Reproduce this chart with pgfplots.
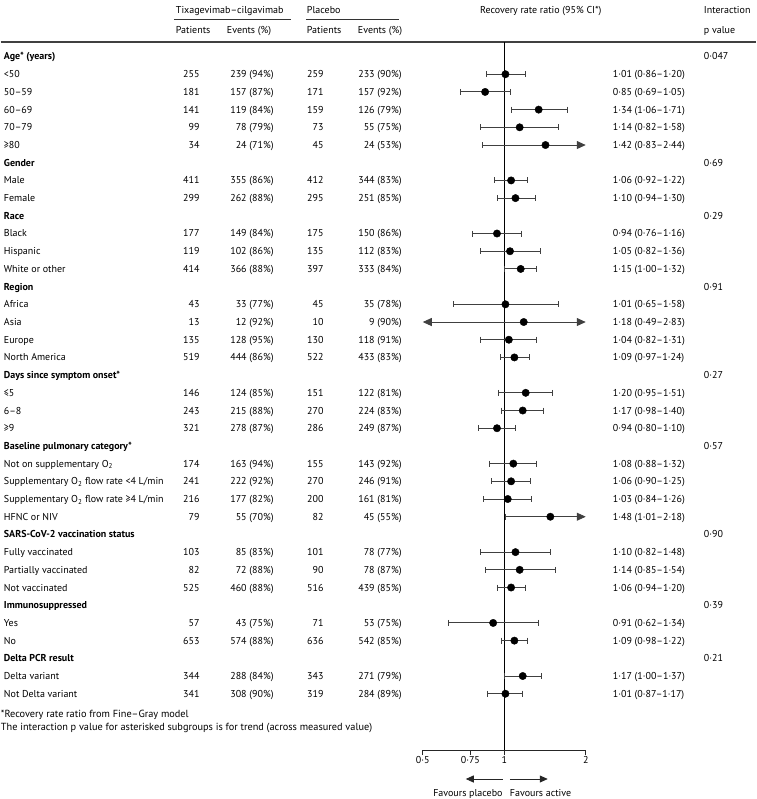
\documentclass[border=0pt]{standalone}
\usepackage{pgfplots}
\pgfplotsset{compat=1.18}
\usepackage{fontspec}
\setmainfont{PT Sans}
\usetikzlibrary{arrows.meta}
\newcommand\ry[1]{56.5+17.7*#1}
\newcommand\hrow[3]{%
  \node[anchor=base west,font=\fontsize{10}{12}\selectfont\bfseries] at (3,{\ry{#1}+3.5}) {#2};
  \node[anchor=base west] at (703,{\ry{#1}+3.5}) {#3};}
\newcommand\drow[7]{%
  \node[anchor=base west] at (3,{\ry{#1}+3.5}) {#2};
  \node[anchor=base east] at (199,{\ry{#1}+3.5}) {#3};
  \node[anchor=base east] at (273,{\ry{#1}+3.5}) {#4};
  \node[anchor=base east] at (323,{\ry{#1}+3.5}) {#5};
  \node[anchor=base east] at (401,{\ry{#1}+3.5}) {#6};
  \node[anchor=base west] at (612,{\ry{#1}+3.5}) {#7};}
\begin{document}
\begin{tikzpicture}[x=1pt,y=-1pt,every node/.style={font=\fontsize{10}{12}\selectfont,inner sep=0pt,text=black}]
\path (0,0) rectangle (755,799);
% headers
\node[anchor=base west] at (175,14) {Tixagevimab–cilgavimab};
\node[anchor=base west] at (306,14) {Placebo};
\node[anchor=base] at (540,14) {Recovery rate ratio (95\% CI*)};
\node[anchor=base west] at (703,14) {Interaction};
\node[anchor=base west] at (703,34) {p value};
\draw[black!80,line width=0.8pt] (173,19) -- (290,19);
\draw[black!80,line width=0.8pt] (305,19) -- (398,19);
\node[anchor=base west] at (175,34) {Patients};
\node[anchor=base west] at (226,34) {Events (\%)};
\node[anchor=base west] at (306,34) {Patients};
\node[anchor=base west] at (357,34) {Events (\%)};
\draw[black!75,line width=1.5pt] (0,42) -- (755,42);
% rows
\hrow{0}{Age* (years)}{0·047}
\drow{1}{<50}{255}{239 (94\%)}{259}{233 (90\%)}{1·01 (0·86–1·20)}
\drow{2}{50–59}{181}{157 (87\%)}{171}{157 (92\%)}{0·85 (0·69–1·05)}
\drow{3}{60–69}{141}{119 (84\%)}{159}{126 (79\%)}{1·34 (1·06–1·71)}
\drow{4}{70–79}{99}{78 (79\%)}{73}{55 (75\%)}{1·14 (0·82–1·58)}
\drow{5}{≥80}{34}{24 (71\%)}{45}{24 (53\%)}{1·42 (0·83–2·44)}
\hrow{6}{Gender}{0·69}
\drow{7}{Male}{411}{355 (86\%)}{412}{344 (83\%)}{1·06 (0·92–1·22)}
\drow{8}{Female}{299}{262 (88\%)}{295}{251 (85\%)}{1·10 (0·94–1·30)}
\hrow{9}{Race}{0·29}
\drow{10}{Black}{177}{149 (84\%)}{175}{150 (86\%)}{0·94 (0·76–1·16)}
\drow{11}{Hispanic}{119}{102 (86\%)}{135}{112 (83\%)}{1·05 (0·82–1·36)}
\drow{12}{White or other}{414}{366 (88\%)}{397}{333 (84\%)}{1·15 (1·00–1·32)}
\hrow{13}{Region}{0·91}
\drow{14}{Africa}{43}{33 (77\%)}{45}{35 (78\%)}{1·01 (0·65–1·58)}
\drow{15}{Asia}{13}{12 (92\%)}{10}{9 (90\%)}{1·18 (0·49–2·83)}
\drow{16}{Europe}{135}{128 (95\%)}{130}{118 (91\%)}{1·04 (0·82–1·31)}
\drow{17}{North America}{519}{444 (86\%)}{522}{433 (83\%)}{1·09 (0·97–1·24)}
\hrow{18}{Days since symptom onset*}{0·27}
\drow{19}{≤5}{146}{124 (85\%)}{151}{122 (81\%)}{1·20 (0·95–1·51)}
\drow{20}{6–8}{243}{215 (88\%)}{270}{224 (83\%)}{1·17 (0·98–1·40)}
\drow{21}{≥9}{321}{278 (87\%)}{286}{249 (87\%)}{0·94 (0·80–1·10)}
\hrow{22}{Baseline pulmonary category*}{0·57}
\drow{23}{Not on supplementary O\textsubscript{2}}{174}{163 (94\%)}{155}{143 (92\%)}{1·08 (0·88–1·32)}
\drow{24}{Supplementary O\textsubscript{2} flow rate <4 L/min}{241}{222 (92\%)}{270}{246 (91\%)}{1·06 (0·90–1·25)}
\drow{25}{Supplementary O\textsubscript{2} flow rate ≥4 L/min}{216}{177 (82\%)}{200}{161 (81\%)}{1·03 (0·84–1·26)}
\drow{26}{HFNC or NIV}{79}{55 (70\%)}{82}{45 (55\%)}{1·48 (1·01–2·18)}
\hrow{27}{SARS-CoV-2 vaccination status}{0·90}
\drow{28}{Fully vaccinated}{103}{85 (83\%)}{101}{78 (77\%)}{1·10 (0·82–1·48)}
\drow{29}{Partially vaccinated}{82}{72 (88\%)}{90}{78 (87\%)}{1·14 (0·85–1·54)}
\drow{30}{Not vaccinated}{525}{460 (88\%)}{516}{439 (85\%)}{1·06 (0·94–1·20)}
\hrow{31}{Immunosuppressed}{0·39}
\drow{32}{Yes}{57}{43 (75\%)}{71}{53 (75\%)}{0·91 (0·62–1·34)}
\drow{33}{No}{653}{574 (88\%)}{636}{542 (85\%)}{1·09 (0·98–1·22)}
\hrow{34}{Delta PCR result}{0·21}
\drow{35}{Delta variant}{344}{288 (84\%)}{343}{271 (79\%)}{1·17 (1·00–1·37)}
\drow{36}{Not Delta variant}{341}{308 (90\%)}{319}{284 (89\%)}{1·01 (0·87–1·17)}
% footnotes
\node[anchor=base west,font=\fontsize{10.3}{12}\selectfont] at (0,717) {*Recovery rate ratio from Fine–Gray model};
\node[anchor=base west,font=\fontsize{10.3}{12}\selectfont] at (0,730) {The interaction p value for asterisked subgroups is for trend (across measured value)};
% favours
\draw[-{Triangle[length=8pt,width=7pt]},black!85,line width=0.8pt] (502,779) -- (465,779);
\draw[-{Triangle[length=8pt,width=7pt]},black!85,line width=0.8pt] (509,779) -- (547,779);
\node[anchor=base east] at (502,796) {Favours placebo};
\node[anchor=base west] at (509,796) {Favours active};
\begin{axis}[at={(422pt,-750pt)},anchor=south west,scale only axis,
  width=163pt,height=708pt,
  xmode=log,log basis x=2,xmin=0.5,xmax=2,
  ymin={-0.82},ymax={39.18},y dir=reverse,
  axis x line*=bottom,axis y line=none,
  x axis line style={black!85,line width=0.8pt},
  xtick={0.5,0.75,1,2},xticklabels={0·5,0·75,1,2},
  tick align=outside,major tick length=5pt,
  tick style={black!85,line width=0.8pt},
  xticklabel style={font=\fontsize{10}{12}\selectfont,yshift=-1pt},
  ytick=\empty,clip=false,
  ci/.style={black!75,line width=0.9pt,mark=|,mark size=3pt,mark options={solid,line width=0.9pt}},
  arr/.style={black!75,line width=0.9pt,mark=|,mark size=3pt,mark options={solid,line width=0.9pt}},
  ]
\draw[black,line width=0.9pt] (axis cs:1,-0.82) -- (axis cs:1,39.18);
\addplot[ci] coordinates {(0.86,1) (1.20,1)};
\addplot[ci] coordinates {(0.69,2) (1.05,2)};
\addplot[ci] coordinates {(1.06,3) (1.71,3)};
\addplot[ci] coordinates {(0.82,4) (1.58,4)};
\addplot[arr,mark indices={1},-{Triangle[length=9pt,width=8pt]}] coordinates {(0.83,5) (2,5)};
\addplot[ci] coordinates {(0.92,7) (1.22,7)};
\addplot[ci] coordinates {(0.94,8) (1.30,8)};
\addplot[ci] coordinates {(0.76,10) (1.16,10)};
\addplot[ci] coordinates {(0.82,11) (1.36,11)};
\addplot[ci] coordinates {(1.00,12) (1.32,12)};
\addplot[ci] coordinates {(0.65,14) (1.58,14)};
\addplot[black!75,line width=0.9pt,{Triangle[length=9pt,width=8pt]}-{Triangle[length=9pt,width=8pt]}] coordinates {(0.5,15) (2,15)};
\addplot[ci] coordinates {(0.82,16) (1.31,16)};
\addplot[ci] coordinates {(0.97,17) (1.24,17)};
\addplot[ci] coordinates {(0.95,19) (1.51,19)};
\addplot[ci] coordinates {(0.98,20) (1.40,20)};
\addplot[ci] coordinates {(0.80,21) (1.10,21)};
\addplot[ci] coordinates {(0.88,23) (1.32,23)};
\addplot[ci] coordinates {(0.90,24) (1.25,24)};
\addplot[ci] coordinates {(0.84,25) (1.26,25)};
\addplot[arr,mark indices={1},-{Triangle[length=9pt,width=8pt]}] coordinates {(1.01,26) (2,26)};
\addplot[ci] coordinates {(0.82,28) (1.48,28)};
\addplot[ci] coordinates {(0.85,29) (1.54,29)};
\addplot[ci] coordinates {(0.94,30) (1.20,30)};
\addplot[ci] coordinates {(0.62,32) (1.34,32)};
\addplot[ci] coordinates {(0.98,33) (1.22,33)};
\addplot[ci] coordinates {(1.00,35) (1.37,35)};
\addplot[ci] coordinates {(0.87,36) (1.17,36)};
\addplot[only marks,mark=*,mark size=3.7pt,black] coordinates {
(1.01,1) (0.85,2) (1.34,3) (1.14,4) (1.42,5)
(1.06,7) (1.10,8)
(0.94,10) (1.05,11) (1.15,12)
(1.01,14) (1.18,15) (1.04,16) (1.09,17)
(1.20,19) (1.17,20) (0.94,21)
(1.08,23) (1.06,24) (1.03,25) (1.48,26)
(1.10,28) (1.14,29) (1.06,30)
(0.91,32) (1.09,33)
(1.17,35) (1.01,36)};
\end{axis}
\end{tikzpicture}
\end{document}
